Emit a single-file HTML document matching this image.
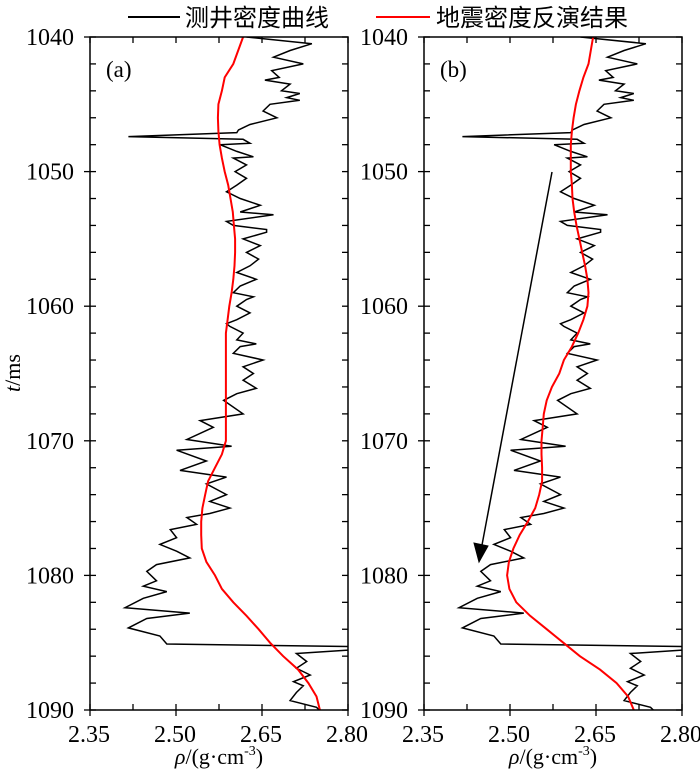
<!DOCTYPE html>
<html><head><meta charset="utf-8"><style>
body{margin:0;background:#fff;}
svg text{font-family:"Liberation Serif","Noto Serif CJK SC",serif;}
</style></head><body>
<svg id="chart" width="700" height="774" viewBox="0 0 700 774" xmlns="http://www.w3.org/2000/svg">
<g>
<line x1="128" y1="17" x2="180" y2="17" stroke="#000" stroke-width="2"/>
<text x="185" y="26" font-size="24" style="font-family:'Liberation Sans','Noto Sans CJK SC',sans-serif">测井密度曲线</text>
<line x1="376" y1="17" x2="430" y2="17" stroke="#f00" stroke-width="2"/>
<text x="436" y="26" font-size="24" style="font-family:'Liberation Sans','Noto Sans CJK SC',sans-serif">地震密度反演结果</text>
</g>
<text transform="translate(20,373) rotate(-90)" text-anchor="middle" font-size="22"><tspan font-style="italic">t</tspan>/ms</text>
</svg>
<script>
const wellT=[1040,1040.5,1041,1041.5,1042,1042.5,1043,1043.2,1043.5,1044,1044.2,1044.5,1044.7,1045,1045.5,1046,1046.5,1046.9,1047.1,1047.4,1047.6,1047.9,1048,1048.5,1048.9,1049,1049.5,1050,1050.5,1051,1051.5,1052,1052.5,1053,1053.2,1053.7,1054,1054.3,1054.5,1055,1055.5,1056,1056.5,1057,1057.5,1058,1058.5,1059,1059.3,1059.5,1060,1060.5,1061,1061.3,1061.5,1062,1062.5,1062.8,1063,1063.5,1064,1064.5,1065,1065.5,1066.1,1066.5,1067,1068,1068.5,1069,1069.9,1070.4,1070.7,1071.5,1072.2,1072.7,1073.2,1074,1074.5,1075,1075.4,1075.7,1076.2,1076.6,1077.2,1077.7,1078.2,1078.7,1079.2,1079.7,1080.4,1080.8,1081.2,1081.7,1082.4,1082.8,1083.2,1083.9,1084.5,1085.1,1085.3,1085.5,1085.8,1086.4,1086.9,1087.4,1087.9,1088.2,1088.7,1089.3,1089.8,1090];
const wellRho=[2.623,2.737,2.699,2.670,2.722,2.667,2.680,2.655,2.699,2.684,2.716,2.693,2.716,2.664,2.652,2.676,2.629,2.609,2.606,2.417,2.617,2.629,2.577,2.606,2.635,2.600,2.623,2.603,2.623,2.606,2.588,2.612,2.647,2.612,2.670,2.588,2.600,2.658,2.658,2.617,2.647,2.623,2.644,2.629,2.606,2.640,2.612,2.600,2.635,2.623,2.606,2.629,2.606,2.588,2.594,2.617,2.606,2.640,2.612,2.600,2.652,2.617,2.635,2.617,2.640,2.606,2.583,2.617,2.542,2.565,2.519,2.597,2.501,2.553,2.507,2.588,2.553,2.588,2.559,2.594,2.559,2.519,2.536,2.490,2.501,2.472,2.501,2.524,2.466,2.449,2.466,2.443,2.484,2.443,2.411,2.524,2.449,2.417,2.472,2.484,2.820,2.820,2.710,2.728,2.710,2.734,2.705,2.722,2.710,2.699,2.745,2.750];
const invT=[1040,1042,1043,1044,1045,1046,1047,1048,1049,1050,1051,1052,1053,1054,1055,1056,1057,1058,1059,1060,1061,1062,1063,1064,1065,1066,1067,1068,1069,1070,1071,1072,1073,1074,1075,1076,1077,1078,1079,1080,1081,1082,1083,1084,1085,1086,1087,1088,1089,1090];
const invRhoA=[2.617,2.600,2.585,2.580,2.574,2.573,2.574,2.576,2.580,2.585,2.591,2.595,2.599,2.601,2.603,2.603,2.602,2.600,2.597,2.593,2.590,2.587,2.587,2.587,2.587,2.587,2.587,2.587,2.587,2.587,2.580,2.568,2.556,2.551,2.546,2.544,2.544,2.545,2.553,2.568,2.580,2.600,2.623,2.644,2.664,2.687,2.713,2.731,2.745,2.751];
const invRhoB=[2.645,2.637,2.628,2.621,2.615,2.611,2.608,2.606,2.606,2.606,2.608,2.609,2.612,2.616,2.621,2.626,2.631,2.635,2.637,2.635,2.628,2.619,2.608,2.594,2.586,2.573,2.564,2.559,2.557,2.555,2.555,2.556,2.556,2.551,2.544,2.531,2.517,2.506,2.498,2.495,2.499,2.511,2.535,2.564,2.593,2.622,2.657,2.686,2.706,2.716];
const xTicks=[2.35,2.50,2.65,2.80];
const yTicks=[1040,1050,1060,1070,1080,1090];
const panelLabels=["(a)","(b)"];

const svg=document.getElementById('chart');
const NS='http://www.w3.org/2000/svg';
const TOP=37,BOT=710,W=258;
const panels=[{x0:90,inv:invRhoA},{x0:424,inv:invRhoB}];
function mk(tag,attrs,parent){const e=document.createElementNS(NS,tag);for(const k in attrs)e.setAttribute(k,attrs[k]);parent.appendChild(e);return e;}
function yS(t){return TOP+(t-1040)/50*(BOT-TOP);}
panels.forEach((p,i)=>{
  const xS=v=>p.x0+(v-2.35)/0.45*W;
  const g=mk('g',{},svg);
  
  
  const cid='clip'+i;
  const cp=mk('clipPath',{id:cid},g);
  mk('rect',{x:p.x0,y:TOP,width:W,height:BOT-TOP},cp);
  for(let t=1040;t<=1090;t+=2){
    const y=yS(t),maj=(t%10===0);
    const l=mk('line',{x1:p.x0-(maj?6:0),x2:p.x0+6,y1:y,y2:y,stroke:'#000','stroke-width':1.3},g);
    
    
    const r=mk('line',{x1:p.x0+W-6,x2:p.x0+W,y1:y,y2:y,stroke:'#000','stroke-width':1.3},g);
    
    
  }
  for(let k=0;k<=6;k++){
    const v=2.35+k*0.075,x=xS(v),maj=(k%2===0);
    const b=mk('line',{x1:x,x2:x,y1:BOT-6,y2:BOT+(maj?6:0),stroke:'#000','stroke-width':1.3},g);
    
    
    const tp=mk('line',{x1:x,x2:x,y1:TOP,y2:TOP+6,stroke:'#000','stroke-width':1.3},g);
    
    
  }
  yTicks.forEach(t=>{
    const tx=mk('text',{x:p.x0-16,y:yS(t)+8,'text-anchor':'end','font-size':24},g);
    
    
    tx.textContent=t;
  });
  xTicks.forEach(v=>{
    const tx=mk('text',{x:xS(v)-1,y:742,'text-anchor':'middle','font-size':24},g);
    
    
    tx.textContent=v.toFixed(2);
  });
  const xl=mk('text',{x:p.x0+W/2,y:764,'text-anchor':'middle','font-size':22},g);
  
  
  xl.innerHTML='<tspan font-style="italic">ρ</tspan>/(g·cm<tspan dy="-9" font-size="14">-3</tspan><tspan dy="9">)</tspan>';
  const pl=mk('text',{x:p.x0+16,y:77,'font-size':23},g);
  
  
  pl.textContent=panelLabels[i];
  const wd=wellT.map((t,j)=>(j?'L':'M')+xS(wellRho[j]).toFixed(1)+','+yS(t).toFixed(1)).join('');
  const wl=mk('path',{d:wd,fill:'none',stroke:'#000','stroke-width':1.5,'clip-path':'url(#'+cid+')'},g);
  
  
  const id=invT.map((t,j)=>(j?'L':'M')+xS(p.inv[j]).toFixed(1)+','+yS(t).toFixed(1)).join('');
  const il=mk('path',{d:id,fill:'none',stroke:'#f00','stroke-width':2,'clip-path':'url(#'+cid+')'},g);
  
  
  const fr=mk('rect',{x:p.x0,y:TOP,width:W,height:BOT-TOP,fill:'none',stroke:'#000','stroke-width':1.5},g);
  
  
});
const ag=mk('g',{},svg);


mk('line',{x1:552,y1:172,x2:482,y2:545,stroke:'#000','stroke-width':1.5},ag);
mk('polygon',{points:'479,562 474,543 488,546',fill:'#000',stroke:'#000','stroke-width':1},ag);
</script>
</body></html>
